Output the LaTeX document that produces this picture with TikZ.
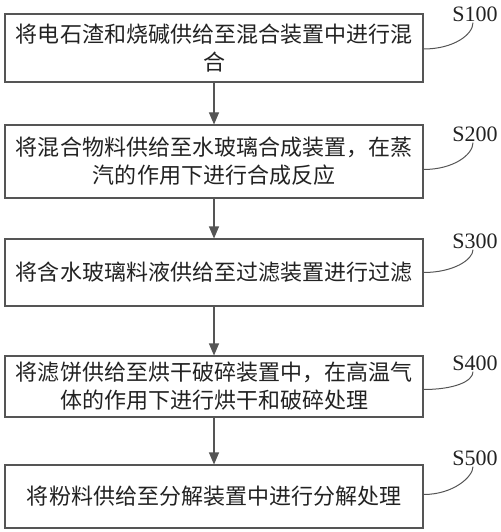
\documentclass[tikz,border=0pt]{standalone}
\usepackage{fontspec}
\setmainfont{Liberation Serif}
\newfontfamily\cjk{Noto Sans CJK SC}
\usetikzlibrary{arrows.meta}
\definecolor{linegray}{HTML}{555555}
\definecolor{textgray}{HTML}{222222}
\tikzset{
  stepbox/.style={draw=linegray, line width=1.1pt, rectangle, minimum width=418pt,
    text width=404pt, align=center, inner sep=0pt, text=textgray,
    font=\cjk\fontsize{22}{28}\selectfont},
  steplabel/.style={inner sep=1pt, text=textgray, font=\fontsize{22}{24}\selectfont},
  flow/.style={draw=linegray, line width=1.1pt, -{Triangle[length=12pt,width=10pt]}},
  tag/.style={draw=linegray, line width=1pt}
}
\begin{document}
\begin{tikzpicture}[x=1pt,y=-1pt]
\useasboundingbox (0,0) rectangle (500,532);

\node[stepbox, minimum height=68pt] (b1) at (214,48) {将电石渣和烧碱供给至混合装置中进行混\\合};
\node[stepbox, minimum height=73pt] (b2) at (214,161.5) {将混合物料供给至水玻璃合成装置，在蒸\\汽的作用下进行合成反应};
\node[stepbox, minimum height=67pt] (b3) at (214,272.5) {将含水玻璃料液供给至过滤装置进行过滤};
\node[stepbox, minimum height=61pt] (b4) at (214,386.5) {将滤饼供给至烘干破碎装置中，在高温气\\体的作用下进行烘干和破碎处理};
\node[stepbox, minimum height=63pt] (b5) at (214,496.5) {将粉料供给至分解装置中进行分解处理};

\draw[flow] (b1) -- (b2);
\draw[flow] (b2) -- (b3);
\draw[flow] (b3) -- (b4);
\draw[flow] (b4) -- (b5);

\node[steplabel] (s1) at (475,14) {S100};
\node[steplabel] (s2) at (475,134) {S200};
\node[steplabel] (s3) at (475,241) {S300};
\node[steplabel] (s4) at (475,363) {S400};
\node[steplabel] (s5) at (475,458) {S500};

\draw[tag] ([yshift=-1pt]b1.east) .. controls +(30,0) and +(0,12) .. ([xshift=-2pt]s1.south);
\draw[tag] ([yshift=-8pt]b2.east) .. controls +(30,0) and +(0,12) .. ([xshift=-2pt]s2.south);
\draw[tag] (b3.east) .. controls +(30,0) and +(0,10) .. ([xshift=-2pt]s3.south);
\draw[tag] ([yshift=-3pt]b4.east) .. controls +(30,0) and +(0,10) .. ([xshift=-2pt]s4.south);
\draw[tag] ([yshift=2pt]b5.east) .. controls +(30,0) and +(0,10) .. ([xshift=-2pt]s5.south);
\end{tikzpicture}
\end{document}
